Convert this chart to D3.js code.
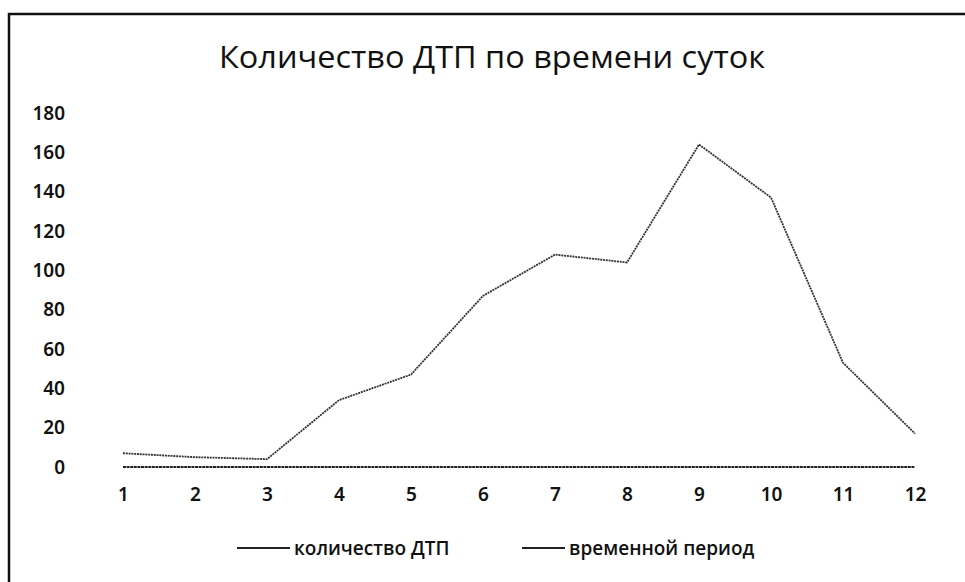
<!DOCTYPE html>
<html>
<head>
<meta charset="utf-8">
<script src="https://cdn.jsdelivr.net/npm/d3@7"></script>
<style>
  body { margin: 0; background: #fff; }
  text { font-family: "Open Sans", "Noto Sans", sans-serif; fill: #111; }
</style>
</head>
<body>
<svg id="chart" width="965" height="582"></svg>
<script>
// chart data
const hours = [1, 2, 3, 4, 5, 6, 7, 8, 9, 10, 11, 12];
const accidents = [7, 5, 4, 34, 47, 87, 108, 104, 164, 137, 53, 17];
const period = [0, 0, 0, 0, 0, 0, 0, 0, 0, 0, 0, 0];
const yTicks = [0, 20, 40, 60, 80, 100, 120, 140, 160, 180];
const seriesNames = ["количество ДТП", "временной период"];

const svg = d3.select("#chart");

// scanned frame: left and top edges only
svg.append("path")
    .attr("d", "M9,582 L9,14 L965,14")
    .attr("fill", "none")
    .attr("stroke", "#111")
    .attr("stroke-width", 2.5);

svg.append("text")
    .attr("x", 492)
    .attr("y", 68)
    .attr("text-anchor", "middle")
    .attr("textLength", 546)
    .attr("lengthAdjust", "spacingAndGlyphs")
    .style("font-size", "31px")
    .style("font-weight", 500)
    .text("Количество ДТП по времени суток");

const x = d3.scalePoint().domain(hours).range([123, 915]);
const y = d3.scaleLinear().domain([0, 180]).range([467, 113]);

// y axis: labels only
const yAxis = svg.append("g")
    .attr("transform", "translate(68,0)")
    .call(d3.axisLeft(y).tickValues(yTicks).tickSize(0).tickPadding(3));
yAxis.select(".domain").remove();
yAxis.selectAll("text")
    .style("font-family", "'Noto Sans', sans-serif")
    .style("font-size", "19px")
    .style("font-weight", 600)
    .attr("fill", "#111");

// x axis: labels only
const xAxis = svg.append("g")
    .attr("transform", "translate(0,487)")
    .call(d3.axisBottom(x).tickSize(0).tickPadding(0));
xAxis.select(".domain").remove();
xAxis.selectAll("text")
    .style("font-family", "'Noto Sans', sans-serif")
    .style("font-size", "19px")
    .style("font-weight", 600)
    .attr("fill", "#111");

const line = d3.line()
    .x((d, i) => x(hours[i]))
    .y(d => y(d));

svg.append("path")
    .datum(period)
    .attr("fill", "none")
    .attr("stroke", "#222")
    .attr("stroke-width", 1.8)
    .attr("stroke-dasharray", "3,0.6")
    .attr("d", line);

svg.append("path")
    .datum(accidents)
    .attr("fill", "none")
    .attr("stroke", "#333")
    .attr("stroke-width", 1.8)
    .attr("stroke-dasharray", "2,0.8")
    .attr("d", line);

// legend
const legendItems = [
  { name: seriesNames[0], x0: 237, x1: 290, tx: 294 },
  { name: seriesNames[1], x0: 522, x1: 565, tx: 569 }
];
const legend = svg.append("g");
legendItems.forEach(d => {
  legend.append("line")
      .attr("x1", d.x0).attr("x2", d.x1)
      .attr("y1", 548).attr("y2", 548)
      .attr("stroke", "#222")
      .attr("stroke-width", 1.8);
  legend.append("text")
      .attr("x", d.tx)
      .attr("y", 555)
      .style("font-size", "19px")
      .style("font-weight", 600)
      .text(d.name);
});
</script>
</body>
</html>
